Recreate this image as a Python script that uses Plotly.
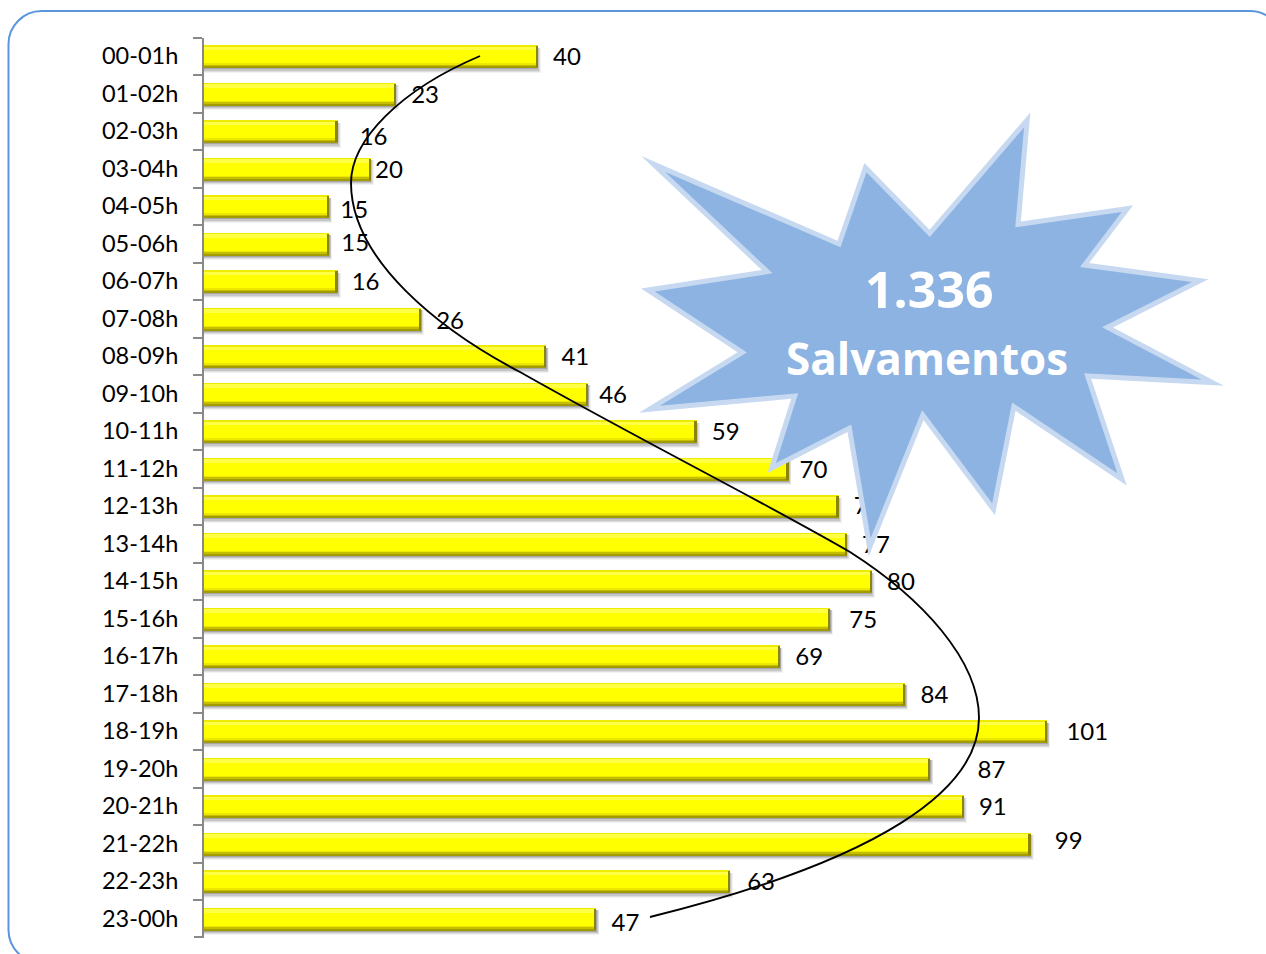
import numpy as np
import plotly.graph_objects as go

W, H = 1266, 954

# ---- data ----
hours = ["00-01h","01-02h","02-03h","03-04h","04-05h","05-06h","06-07h","07-08h",
         "08-09h","09-10h","10-11h","11-12h","12-13h","13-14h","14-15h","15-16h",
         "16-17h","17-18h","18-19h","19-20h","20-21h","21-22h","22-23h","23-00h"]
rescues = [40,23,16,20,15,15,16,26,41,46,59,70,76,77,80,75,69,84,101,87,91,99,63,47]

# hand-placed label nudges of the original (pixels from the end of each bar)
label_dx = [29,29,36,18,25,26,28,29,29,25,29,25,29,29,29,33,29,29,40,61,29,38,31,29]
label_dy = [3,3,8,3,6,1,3,4,3,3,3,3,2,3,3,3,3,3,3,3,3,-1,3,6]

headline = "1.336"
caption = "Salvamentos"

# ---- geometry ----
PLOT_L, PLOT_T, PLOT_B = 204, 37.5, 937.5
PX_PER_UNIT = 8.35
ROW = (PLOT_B - PLOT_T) / len(hours)


def fx(px):
    return px / W


def fy(py):
    return 1 - py / H


def path(points, close=True):
    s = "M " + " L ".join(f"{fx(x):.5f},{fy(y):.5f}" for x, y in points)
    return s + (" Z" if close else "")


fig = go.Figure()


def band(top, bottom, color, extra=0.0, shift=0.0):
    """One horizontal layer of the bevelled bar, given in px from the row centre."""
    fig.add_bar(
        y=hours, x=[v + extra for v in rescues], orientation="h",
        base=shift, width=(bottom - top) / ROW, offset=top / ROW,
        marker=dict(color=color, line=dict(width=0)),
        hoverinfo="skip", showlegend=False,
    )


# soft shadow
band(-9, 16, "rgba(0,0,0,0.05)", 0.35)
band(-9, 15, "rgba(0,0,0,0.08)", 0.25)
band(-9, 14, "rgba(0,0,0,0.11)", 0.15)
band(-9, 12.5, "rgba(0,0,0,0.16)", 0.05)
# body
band(-11, 11, "#ffff00")
band(-11, -10, "#eeea00")
band(-10, -6.5, "#ffff45")
band(7, 8.5, "#ece800")
band(8.5, 9.8, "#c4bd00")
band(9.8, 11, "#a39c00")
# right edge
fig.add_bar(
    y=hours, x=[0.2] * len(hours), base=[v - 0.2 for v in rescues], orientation="h",
    width=21 / ROW, offset=-10.5 / ROW, marker=dict(color="#8a8508", line=dict(width=0)),
    hoverinfo="skip", showlegend=False,
)

# value labels
fig.add_scatter(
    x=[v + dx / PX_PER_UNIT for v, dx in zip(rescues, label_dx)],
    y=[i + dy / ROW for i, dy in enumerate(label_dy)],
    yaxis="y2", mode="text", text=[str(v) for v in rescues],
    textposition="middle center",
    textfont=dict(family="Lato", size=24, color="#000000"),
    hoverinfo="skip", showlegend=False,
)

# ---- decoration ----
star_zoom = [(62,192),(548,432),(617,203),(785,400),(1040,60),(1016,373),(1302,326),(1190,495),
             (1492,542),(1250,682),(1525,848),(1198,828),(1288,1138),(1005,920),(952,1228),
             (767,945),(628,1342),(575,985),(372,1104),(432,888),(52,928),(295,757),(48,570),(360,515)]
star = np.array([(629.5 + x * 0.3824, 100 + y / 3) for x, y in star_zoom])


def offset_polygon(p, d):
    """Miter offset of a polygon; positive d grows it."""
    n = len(p)
    area = sum(p[i][0] * p[(i + 1) % n][1] - p[(i + 1) % n][0] * p[i][1] for i in range(n))
    sign = 1 if area > 0 else -1
    out = []
    for i in range(n):
        a = p[i] - p[i - 1]
        b = p[(i + 1) % n] - p[i]
        a = a / np.linalg.norm(a)
        b = b / np.linalg.norm(b)
        na = sign * np.array([a[1], -a[0]])
        nb = sign * np.array([b[1], -b[0]])
        m = na + nb
        m = m / np.linalg.norm(m)
        out.append(p[i] + m * d / float(m @ na))
    return out


def pt(x, y):
    return f"{fx(x):.5f},{fy(y):.5f}"


shapes = []
# closing tick at the bottom of the axis
shapes.append(dict(type="line", xref="paper", yref="paper", x0=fx(194), x1=fx(204), y0=fy(937), y1=fy(937),
                   line=dict(color="#898989", width=2), layer="below"))
# curve
c = [(480,56),(400,90),(351,140),(351,183),(351,260),(440,330),(520,372),(640,440),(760,500),
     (850,552),(922,598),(979,660),(979,718),(979,790),(880,860),(650,917)]
pc = [pt(x, y) for x, y in c]
curve = "M " + pc[0] + " " + " ".join("C " + " ".join(pc[i:i + 3]) for i in range(1, len(pc), 3))
shapes.append(dict(type="path", xref="paper", yref="paper", path=curve,
                   line=dict(color="#000000", width=1.9), layer="above"))
shapes.append(dict(type="path", xref="paper", yref="paper", path=path(offset_polygon(star, 2.5)),
                   fillcolor="#c6d9f1", line=dict(width=0), layer="above"))
shapes.append(dict(type="path", xref="paper", yref="paper", path=path(offset_polygon(star, -2.5)),
                   fillcolor="#8db3e2", line=dict(width=0), layer="above"))
# rounded border (runs past the right and bottom page edges)
R, KX, T, L, RR, BB = 33, 15, 11, 8.5, 1283, 963
border = (f"M {pt(L + R, BB)} C {pt(L + KX, BB)} {pt(L, BB - KX)} {pt(L, BB - R)} "
          f"L {pt(L, T + R)} C {pt(L, T + KX)} {pt(L + KX, T)} {pt(L + R, T)} "
          f"L {pt(RR - R, T)} C {pt(RR - KX, T)} {pt(RR, T + KX)} {pt(RR, T + R)}")
shapes.append(dict(type="path", xref="paper", yref="paper", path=border,
                   line=dict(color="#5b96dc", width=2), layer="above"))

annotations = [
    dict(text=headline, x=fx(929), y=fy(289), xref="paper", yref="paper", showarrow=False,
         xanchor="center", yanchor="middle",
         font=dict(family="Open Sans", size=50, color="#ffffff", weight=700)),
    dict(text=caption, x=fx(927), y=fy(358), xref="paper", yref="paper", showarrow=False,
         xanchor="center", yanchor="middle",
         font=dict(family="Open Sans", size=44, color="#ffffff", weight=700)),
]

x_max = (W - PLOT_L) / PX_PER_UNIT
fig.update_layout(
    width=W, height=H, margin=dict(l=0, r=0, t=0, b=0),
    paper_bgcolor="#ffffff", plot_bgcolor="rgba(0,0,0,0)",
    barmode="overlay", bargap=0, showlegend=False,
    shapes=shapes, annotations=annotations,
    xaxis=dict(domain=[fx(PLOT_L), 1], range=[0, x_max], visible=False, fixedrange=True),
    yaxis=dict(domain=[fy(PLOT_B), fy(PLOT_T)], type="category", categoryorder="array",
               categoryarray=hours, range=[len(hours) - 0.5, -0.5], tickson="boundaries",
               ticks="outside", ticklen=9, tickwidth=2, tickcolor="#898989",
               showline=True, linewidth=2, linecolor="#898989", showgrid=False,
               ticklabelstandoff=19, tickfont=dict(family="Lato", size=23.5, color="#000000"),
               fixedrange=True),
    yaxis2=dict(domain=[fy(PLOT_B), fy(PLOT_T)], overlaying="y", range=[len(hours) - 0.5, -0.5],
                visible=False, fixedrange=True),
)

fig.write_html("out.html", post_script="document.body.style.margin='0';document.body.style.overflow='hidden';",
               config={"displayModeBar": False})
